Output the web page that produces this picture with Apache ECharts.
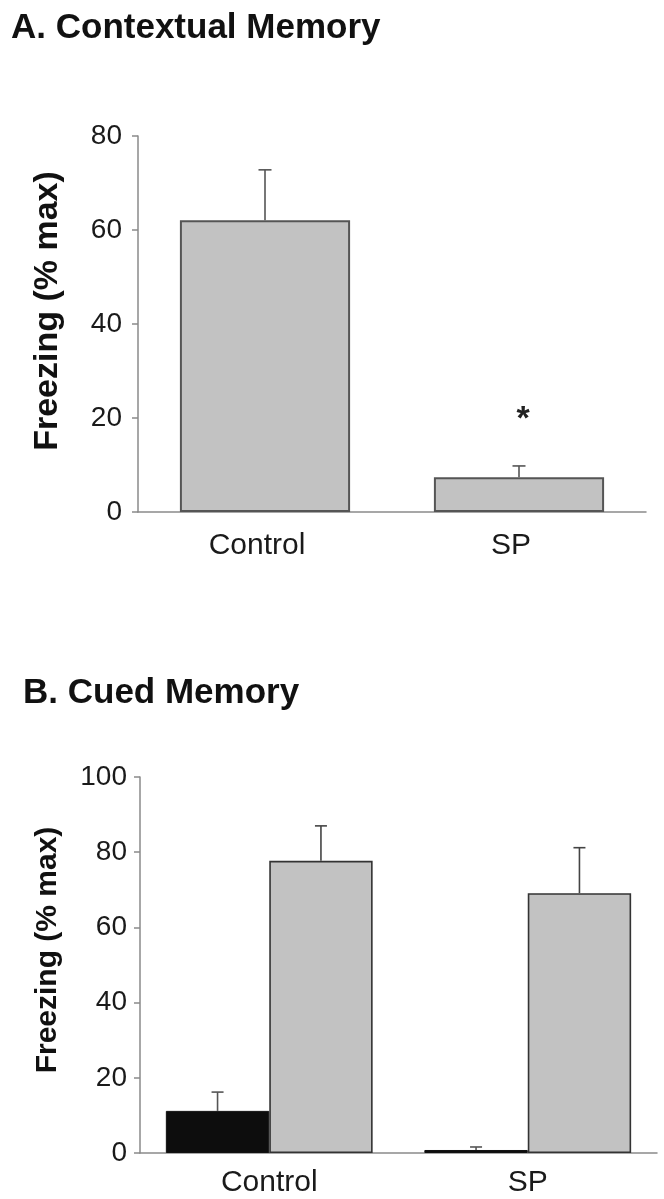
<!DOCTYPE html>
<html><head><meta charset="utf-8">
<script src="https://cdn.jsdelivr.net/npm/echarts@6/dist/echarts.min.js"></script>
<style>html,body{margin:0;padding:0;background:#fff}#c{width:664px;height:1199px}</style>
</head><body><div id="c"></div>
<script>
// Panel A: Contextual memory
const catsA = ['Control', 'SP'];
const meanA = [62.1, 7.4];
const semA = [10.7, 2.4];
const sigA = ['', '*'];
const sigLevelA = 21;
const ticksA = { min: 0, max: 80, interval: 20 };

// Panel B: Cued memory
const catsB = ['Control', 'SP'];
const blackB = [11.2, 0.8];
const blackSemB = [5.0, 0.8];
const grayB = [77.7, 69.1];
const graySemB = [9.3, 12.1];
const ticksB = { min: 0, max: 100, interval: 20 };

const FONT = '"Liberation Sans", Arial, Helvetica, sans-serif';
const chart = echarts.init(document.getElementById('c'), null, { renderer: 'canvas' });

function errRender(offsetFrac, capW, color) {
  return function (params, api) {
    const x = api.value(0), m = api.value(1), s = api.value(2);
    const base = api.coord([x, m]);
    const top = api.coord([x, m + s]);
    const bw = api.size([1, 0])[0];
    const cx = base[0] + offsetFrac * bw;
    const st = { stroke: color, lineWidth: 1.6 };
    return {
      type: 'group',
      children: [
        { type: 'line', shape: { x1: cx, y1: base[1], x2: cx, y2: top[1] }, style: st },
        { type: 'line', shape: { x1: cx - capW / 2, y1: top[1], x2: cx + capW / 2, y2: top[1] }, style: st }
      ]
    };
  };
}

const axisLineStyle = { color: '#8a8a8a', width: 1.5 };

const option = {
  animation: false,
  backgroundColor: '#fff',
  title: [
    { text: 'A. Contextual Memory', left: 6, top: 6,
      textStyle: { fontFamily: FONT, fontWeight: 'bold', fontSize: 35, color: '#111' } },
    { text: 'B. Cued Memory', left: 18, top: 671,
      textStyle: { fontFamily: FONT, fontWeight: 'bold', fontSize: 35, color: '#111' } }
  ],
  grid: [
    { left: 138, top: 136, width: 508, height: 376 },
    { left: 140, top: 777, width: 517, height: 376 }
  ],
  xAxis: [
    { type: 'category', gridIndex: 0, data: catsA,
      axisLine: { lineStyle: axisLineStyle }, axisTick: { show: false },
      axisLabel: { margin: 19, fontFamily: FONT, fontSize: 30, color: '#1a1a1a', padding: [0, 16, 0, 0] } },
    { type: 'category', gridIndex: 1, data: catsB,
      axisLine: { lineStyle: axisLineStyle }, axisTick: { show: false },
      axisLabel: { margin: 15, fontFamily: FONT, fontSize: 30, color: '#1a1a1a' } }
  ],
  yAxis: [
    { type: 'value', gridIndex: 0, min: ticksA.min, max: ticksA.max, interval: ticksA.interval,
      name: 'Freezing (% max)', nameLocation: 'middle', nameRotate: 90, nameGap: 73,
      nameTextStyle: { fontFamily: FONT, fontWeight: 'bold', fontSize: 34, color: '#111', padding: [0, 0, 0, 26] },
      axisLine: { show: true, lineStyle: axisLineStyle },
      axisTick: { show: true, length: 6, lineStyle: axisLineStyle },
      splitLine: { show: false },
      axisLabel: { margin: 16, fontFamily: FONT, fontSize: 28, color: '#1a1a1a' } },
    { type: 'value', gridIndex: 1, min: ticksB.min, max: ticksB.max, interval: ticksB.interval,
      name: 'Freezing (% max)', nameLocation: 'middle', nameRotate: 90, nameGap: 77,
      nameTextStyle: { fontFamily: FONT, fontWeight: 'bold', fontSize: 30, color: '#111', padding: [0, 0, 0, 30] },
      axisLine: { show: true, lineStyle: axisLineStyle },
      axisTick: { show: true, length: 6, lineStyle: axisLineStyle },
      splitLine: { show: false },
      axisLabel: { margin: 13, fontFamily: FONT, fontSize: 28, color: '#1a1a1a' } }
  ],
  series: [
    { type: 'bar', xAxisIndex: 0, yAxisIndex: 0, data: meanA, barWidth: '67%',
      itemStyle: { color: '#c2c2c2', borderColor: '#555', borderWidth: 2 } },
    { type: 'custom', xAxisIndex: 0, yAxisIndex: 0, z: 5,
      data: catsA.map((c, i) => [i, meanA[i], semA[i]]),
      renderItem: errRender(0, 13, '#555') },
    { type: 'custom', xAxisIndex: 0, yAxisIndex: 0, z: 5,
      data: catsA.map((c, i) => [i, sigLevelA, sigA[i]]),
      renderItem: function (params, api) {
        const p = api.coord([api.value(0), api.value(1)]);
        return { type: 'text', x: p[0] + 4, y: p[1] + 6,
          style: { text: sigA[params.dataIndex], fontFamily: FONT, fontWeight: 'bold', fontSize: 34,
            fill: '#222', align: 'center', verticalAlign: 'middle' } };
      } },
    { type: 'bar', xAxisIndex: 1, yAxisIndex: 1, data: blackB, barWidth: '40%', barGap: '0%',
      itemStyle: { color: '#0d0d0d', borderColor: '#111', borderWidth: 1 } },
    { type: 'bar', xAxisIndex: 1, yAxisIndex: 1, data: grayB, barWidth: '40%', barGap: '0%',
      itemStyle: { color: '#c2c2c2', borderColor: '#333', borderWidth: 1.6 } },
    { type: 'custom', xAxisIndex: 1, yAxisIndex: 1, z: 5,
      data: catsB.map((c, i) => [i, blackB[i], blackSemB[i]]),
      renderItem: errRender(-0.2, 12, '#555') },
    { type: 'custom', xAxisIndex: 1, yAxisIndex: 1, z: 5,
      data: catsB.map((c, i) => [i, grayB[i], graySemB[i]]),
      renderItem: errRender(0.2, 12, '#444') }
  ]
};
chart.setOption(option);
</script>
</body></html>
